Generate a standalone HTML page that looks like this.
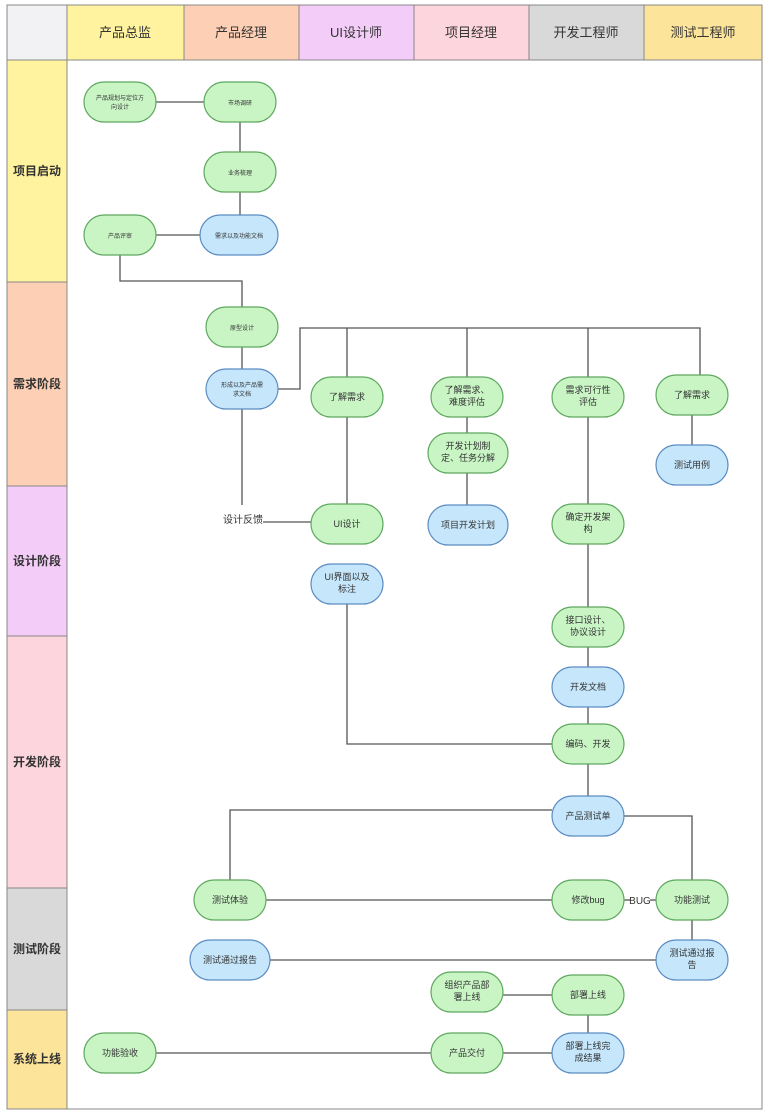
<!DOCTYPE html>
<html><head><meta charset="utf-8"><style>
html,body{margin:0;padding:0;background:#fff;}
svg{display:block;font-family:"Liberation Sans","Noto Sans CJK SC",sans-serif;}
</style></head><body>
<svg width="770" height="1114" viewBox="0 0 770 1114" xmlns="http://www.w3.org/2000/svg">
<rect x="0" y="0" width="770" height="1114" fill="#fff"/>
<!-- header -->
<rect x="7" y="5" width="60" height="55" fill="#f2f2f4" stroke="#888"/>
<rect x="67" y="5" width="117" height="55" fill="#fff3a0" stroke="#888"/>
<rect x="184" y="5" width="115" height="55" fill="#fdd0b5" stroke="#888"/>
<rect x="299" y="5" width="115" height="55" fill="#f3cdf8" stroke="#888"/>
<rect x="414" y="5" width="115" height="55" fill="#fdd5dc" stroke="#888"/>
<rect x="529" y="5" width="115" height="55" fill="#d9d9d9" stroke="#888"/>
<rect x="644" y="5" width="118" height="55" fill="#fde49b" stroke="#888"/>
<g font-size="13" fill="#333" text-anchor="middle">
<text x="125" y="37">产品总监</text><text x="241" y="37">产品经理</text><text x="356" y="37">UI设计师</text>
<text x="471" y="37">项目经理</text><text x="586" y="37">开发工程师</text><text x="703" y="37">测试工程师</text>
</g>
<!-- rows -->
<rect x="67" y="60" width="695" height="1049" fill="#fff" stroke="#888"/>
<rect x="7" y="60" width="60" height="222" fill="#fff3a0" stroke="#888"/>
<rect x="7" y="282" width="60" height="204" fill="#fdd0b5" stroke="#888"/>
<rect x="7" y="486" width="60" height="150" fill="#f3cdf8" stroke="#888"/>
<rect x="7" y="636" width="60" height="252" fill="#fdd5dc" stroke="#888"/>
<rect x="7" y="888" width="60" height="122" fill="#d9d9d9" stroke="#888"/>
<rect x="7" y="1010" width="60" height="99" fill="#fde49b" stroke="#888"/>
<g font-size="12" font-weight="bold" fill="#333" text-anchor="middle">
<text x="37" y="175">项目启动</text><text x="37" y="388">需求阶段</text><text x="37" y="565">设计阶段</text>
<text x="37" y="766">开发阶段</text><text x="37" y="953">测试阶段</text><text x="37" y="1063">系统上线</text>
</g>
<!-- lines -->
<g stroke="#555" stroke-width="1.3" fill="none">
<path d="M156 102H204"/><path d="M240 122V215"/><path d="M156 235H204"/>
<path d="M120 255V281H242V307"/><path d="M242 347V369"/>
<path d="M278 389H300V328H700V375"/><path d="M347 328V377"/><path d="M467 328V377"/><path d="M588 328V377"/>
<path d="M242 409V505"/><path d="M263 522H311"/>
<path d="M347 417V504"/><path d="M347 604V744H552"/>
<path d="M467 417V505"/><path d="M588 417V796"/><path d="M692 415V445"/>
<path d="M552 810H230V880"/><path d="M624 816H692V880"/>
<path d="M266 900H552"/><path d="M624 900H631"/><path d="M650 900H656"/>
<path d="M692 920V940"/><path d="M270 960H656"/>
<path d="M503 995H552"/><path d="M588 1015V1033"/>
<path d="M156 1053H431"/><path d="M503 1053H552"/>
</g>
<g font-size="10" fill="#333" text-anchor="middle">
<text x="243" y="523">设计反馈</text><text x="640" y="904">BUG</text>
</g>
<!-- nodes -->
<g stroke-width="1.2" font-size="9" text-anchor="middle">
<g fill="#c9f5c5" stroke="#5fa85f">
<rect x="84" y="82" width="72" height="40" rx="20"/>
<rect x="204" y="82" width="72" height="40" rx="20"/>
<rect x="204" y="152" width="72" height="40" rx="20"/>
<rect x="84" y="215" width="72" height="40" rx="20"/>
<rect x="206" y="307" width="72" height="40" rx="20"/>
<rect x="311" y="377" width="72" height="40" rx="20"/>
<rect x="431" y="377" width="72" height="40" rx="20"/>
<rect x="552" y="377" width="72" height="40" rx="20"/>
<rect x="656" y="375" width="72" height="40" rx="20"/>
<rect x="428" y="433" width="80" height="40" rx="20"/>
<rect x="311" y="504" width="72" height="40" rx="20"/>
<rect x="552" y="504" width="72" height="40" rx="20"/>
<rect x="552" y="607" width="72" height="40" rx="20"/>
<rect x="552" y="724" width="72" height="40" rx="20"/>
<rect x="194" y="880" width="72" height="40" rx="20"/>
<rect x="552" y="880" width="72" height="40" rx="20"/>
<rect x="656" y="880" width="72" height="40" rx="20"/>
<rect x="431" y="972" width="72" height="40" rx="20"/>
<rect x="552" y="975" width="72" height="40" rx="20"/>
<rect x="84" y="1033" width="72" height="40" rx="20"/>
<rect x="431" y="1033" width="72" height="40" rx="20"/>
</g>
<g fill="#c6e7fb" stroke="#5b8cc2">
<rect x="200" y="215" width="78" height="40" rx="20"/>
<rect x="206" y="369" width="72" height="40" rx="20"/>
<rect x="656" y="445" width="72" height="40" rx="20"/>
<rect x="428" y="505" width="80" height="40" rx="20"/>
<rect x="311" y="564" width="72" height="40" rx="20"/>
<rect x="552" y="667" width="72" height="40" rx="20"/>
<rect x="552" y="796" width="72" height="40" rx="20"/>
<rect x="190" y="940" width="80" height="40" rx="20"/>
<rect x="656" y="940" width="72" height="40" rx="20"/>
<rect x="552" y="1033" width="72" height="40" rx="20"/>
</g>
<g fill="#333" stroke="none">
<text font-size="6" x="120" y="100">产品规划与定位方</text><text font-size="6" x="120" y="109">向设计</text>
<text font-size="6" x="240" y="105">市场调研</text>
<text font-size="6" x="240" y="175">业务梳理</text>
<text font-size="6" x="239" y="238">需求以及功能文档</text>
<text font-size="6" x="120" y="238">产品评审</text>
<text font-size="6" x="242" y="330">原型设计</text>
<text font-size="6" x="242" y="387">形成以及产品需</text><text font-size="6" x="242" y="396">求文档</text>
<text x="347" y="400">了解需求</text>
<text x="467" y="393">了解需求、</text><text x="467" y="405">难度评估</text>
<text x="588" y="393">需求可行性</text><text x="588" y="405">评估</text>
<text x="692" y="398">了解需求</text>
<text x="468" y="449">开发计划制</text><text x="468" y="461">定、任务分解</text>
<text x="692" y="468">测试用例</text>
<text x="468" y="528">项目开发计划</text>
<text x="347" y="527">UI设计</text>
<text x="588" y="520">确定开发架</text><text x="588" y="532">构</text>
<text x="347" y="580">UI界面以及</text><text x="347" y="592">标注</text>
<text x="588" y="623">接口设计、</text><text x="588" y="635">协议设计</text>
<text x="588" y="690">开发文档</text>
<text x="588" y="747">编码、开发</text>
<text x="588" y="819">产品测试单</text>
<text x="230" y="903">测试体验</text>
<text x="588" y="903">修改bug</text>
<text x="692" y="903">功能测试</text>
<text x="230" y="963">测试通过报告</text>
<text x="692" y="956">测试通过报</text><text x="692" y="968">告</text>
<text x="467" y="988">组织产品部</text><text x="467" y="1000">署上线</text>
<text x="588" y="998">部署上线</text>
<text x="120" y="1056">功能验收</text>
<text x="467" y="1056">产品交付</text>
<text x="588" y="1049">部署上线完</text><text x="588" y="1061">成结果</text>
</g>
</g>
</svg>
</body></html>
